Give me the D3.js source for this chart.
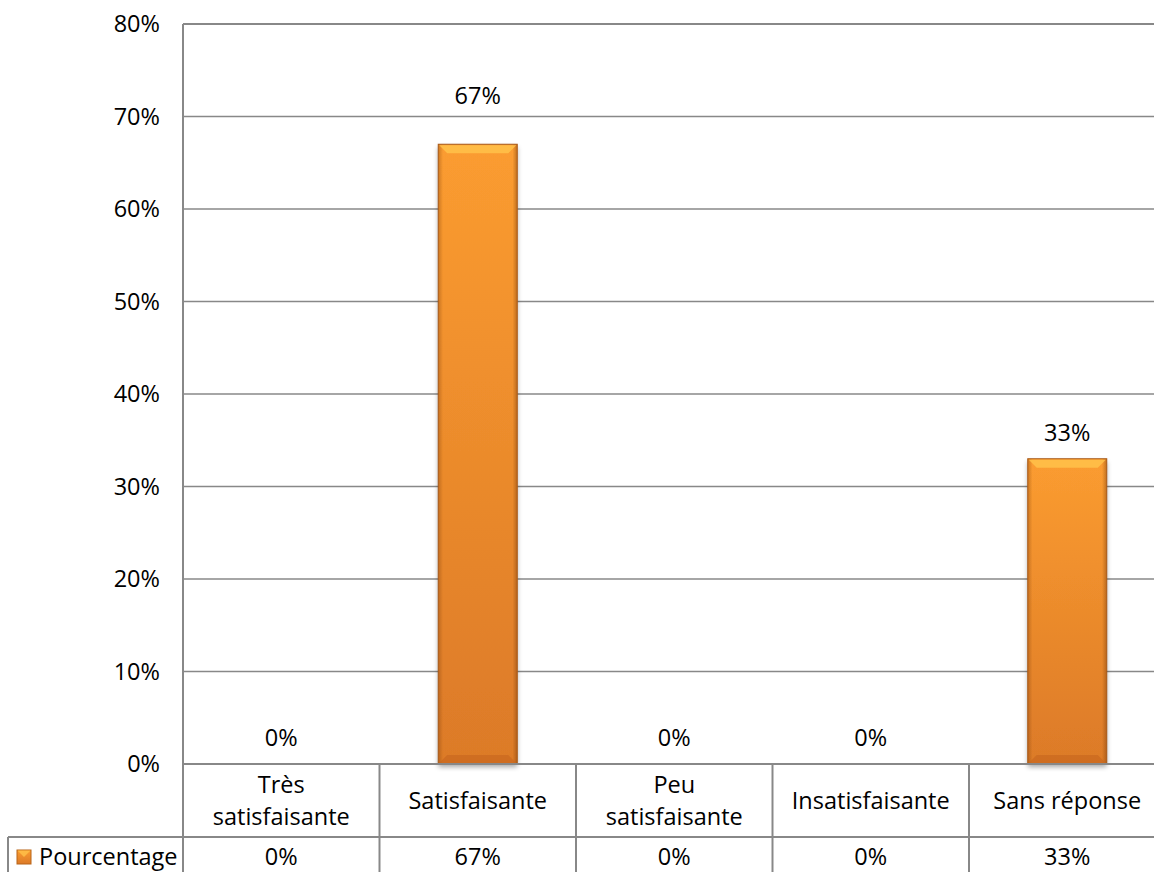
<!DOCTYPE html>
<html><head><meta charset="utf-8">
<script src="https://cdn.jsdelivr.net/npm/d3@7"></script>
<style>body{margin:0;background:#fff;overflow:hidden}text{font-family:"Open Sans",sans-serif;fill:#000}</style>
</head><body>
<script>
const categories = ["Très satisfaisante","Satisfaisante","Peu satisfaisante","Insatisfaisante","Sans réponse"];
const categoryLines = [["Très","satisfaisante"],["Satisfaisante"],["Peu","satisfaisante"],["Insatisfaisante"],["Sans réponse"]];
const values = [0, 0.67, 0, 0, 0.33];
const valueLabels = ["0%","67%","0%","0%","33%"];
const yTicks = [0,0.1,0.2,0.3,0.4,0.5,0.6,0.7,0.8];
const seriesName = "Pourcentage";

(function(){
const W=1154,H=872;
const svg=d3.select("body").append("svg").attr("width",W).attr("height",H);
const defs=svg.append("defs");
const g1=defs.append("linearGradient").attr("id","barg").attr("x1",0).attr("y1",0).attr("x2",0).attr("y2",1);
g1.append("stop").attr("offset","0%").attr("stop-color","#fb9c30");
g1.append("stop").attr("offset","100%").attr("stop-color","#dc7a28");
const g2=defs.append("linearGradient").attr("id","barh").attr("x1",0).attr("y1",0).attr("x2",1).attr("y2",0);
g2.append("stop").attr("offset","0%").attr("stop-color","#7a3c0a").attr("stop-opacity",0.35);
g2.append("stop").attr("offset","6%").attr("stop-color","#7a3c0a").attr("stop-opacity",0);
g2.append("stop").attr("offset","94%").attr("stop-color","#7a3c0a").attr("stop-opacity",0);
g2.append("stop").attr("offset","100%").attr("stop-color","#7a3c0a").attr("stop-opacity",0.45);
const flt=defs.append("filter").attr("id","sh").attr("x","-20%").attr("y","-5%").attr("width","140%").attr("height","115%");
flt.append("feGaussianBlur").attr("in","SourceAlpha").attr("stdDeviation",2.5);
flt.append("feOffset").attr("dx",0).attr("dy",3).attr("result","b");
flt.append("feComponentTransfer").append("feFuncA").attr("type","linear").attr("slope",0.35);
const fm=flt.append("feMerge");fm.append("feMergeNode");fm.append("feMergeNode").attr("in","SourceGraphic");

const pLeft=183, pRight=1165.5, pTop=24, base=764, rowY=837;
const y=d3.scaleLinear().domain([0,0.8]).range([base,pTop]);
const x=d3.scaleBand().domain(categories).range([pLeft,pRight]).paddingInner(0.598).paddingOuter(0.299);
const step=x.step();
const lineCol="#888";
const fs=23.5;

svg.append("g").selectAll("line").data(yTicks.filter(d=>d>0)).join("line")
 .attr("x1",pLeft).attr("x2",W).attr("y1",d=>y(d)).attr("y2",d=>y(d))
 .attr("stroke",lineCol).attr("stroke-width",1.5);
svg.append("g").selectAll("text").data(yTicks).join("text")
 .attr("x",160).attr("y",d=>y(d)).attr("dy","0.35em").attr("text-anchor","end")
 .attr("font-size",fs).text(d3.format(".0%"));

const bars=svg.append("g").selectAll("g").data(values.map((v,i)=>({v,c:categories[i],l:valueLabels[i]}))).join("g");
const pos=bars.filter(d=>d.v>0);
pos.append("rect").attr("x",d=>x(d.c)).attr("y",d=>y(d.v)).attr("width",x.bandwidth()).attr("height",d=>base-y(d.v))
 .attr("fill","url(#barg)").attr("filter","url(#sh)");
pos.append("rect").attr("x",d=>x(d.c)).attr("y",d=>y(d.v)).attr("width",x.bandwidth()).attr("height",d=>base-y(d.v))
 .attr("fill","url(#barh)").attr("stroke","#a85a18").attr("stroke-width",1);
pos.append("path").attr("d",d=>{const x0=x(d.c),x1=x0+x.bandwidth(),t=y(d.v);return `M${x0+1},${t+1}L${x1-1},${t+1}L${x1-9},${t+9}L${x0+9},${t+9}Z`;})
 .attr("fill","#ffc24a").attr("opacity",0.85);
pos.append("path").attr("d",d=>{const x0=x(d.c),x1=x0+x.bandwidth(),b=base;return `M${x0+1},${b-1}L${x1-1},${b-1}L${x1-9},${b-9}L${x0+9},${b-9}Z`;})
 .attr("fill","#c9681f").attr("opacity",0.7);
bars.append("text").attr("x",d=>x(d.c)+x.bandwidth()/2).attr("y",d=>y(d.v)-(d.v>0.5?48:26)).attr("dy","0.35em")
 .attr("text-anchor","middle").attr("font-size",fs).text(d=>d.l);

const tg=svg.append("g");
tg.append("line").attr("x1",pLeft).attr("x2",W).attr("y1",base).attr("y2",base).attr("stroke",lineCol).attr("stroke-width",2);
tg.append("line").attr("x1",pLeft).attr("x2",pLeft).attr("y1",pTop).attr("y2",H).attr("stroke",lineCol).attr("stroke-width",2);
tg.append("line").attr("x1",pLeft).attr("x2",W).attr("y1",pTop).attr("y2",pTop).attr("stroke",lineCol).attr("stroke-width",2);
tg.append("line").attr("x1",8).attr("x2",W).attr("y1",rowY).attr("y2",rowY).attr("stroke",lineCol).attr("stroke-width",2);
tg.append("line").attr("x1",8).attr("x2",8).attr("y1",rowY).attr("y2",H).attr("stroke",lineCol).attr("stroke-width",2);
tg.selectAll("line.col").data(categories.slice(1)).join("line").attr("class","col")
 .attr("x1",d=>x(d)-x.paddingInner()*step/2).attr("x2",d=>x(d)-x.paddingInner()*step/2).attr("y1",base).attr("y2",H)
 .attr("stroke",lineCol).attr("stroke-width",2);
categories.forEach((c,i)=>{
  const cx=x(c)+x.bandwidth()/2, lines=categoryLines[i];
  const mid=801;
  lines.forEach((t,j)=>{
    tg.append("text").attr("x",cx).attr("y",mid+(j-(lines.length-1)/2)*32).attr("dy","0.35em")
      .attr("text-anchor","middle").attr("font-size",fs).text(t);
  });
  tg.append("text").attr("x",cx).attr("y",857).attr("dy","0.35em").attr("text-anchor","middle").attr("font-size",fs).text(valueLabels[i]);
});
tg.append("rect").attr("x",17).attr("y",850).attr("width",14).attr("height",14).attr("fill","url(#barg)").attr("stroke","#b86418").attr("stroke-width",1);
tg.append("path").attr("d","M17.5,850.5L30.5,850.5L24,857Z").attr("fill","#ffc24a").attr("opacity",0.8);
tg.append("text").attr("x",39).attr("y",857).attr("dy","0.35em").attr("font-size",fs).text(seriesName);
})();
</script>
</body></html>
